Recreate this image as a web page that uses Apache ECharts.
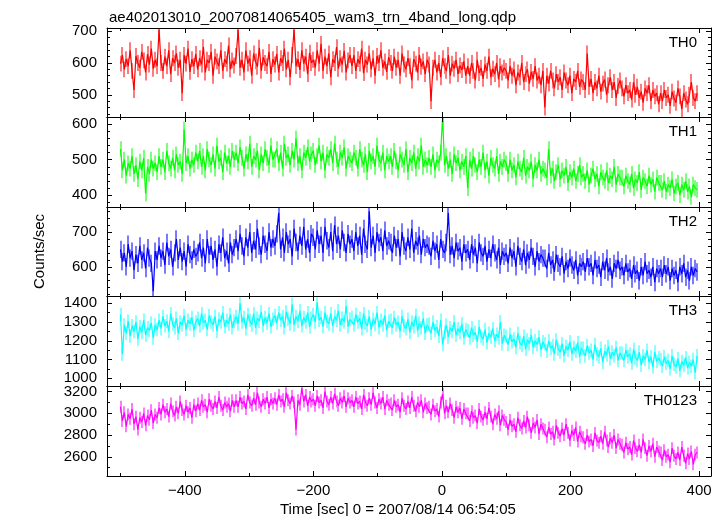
<!DOCTYPE html>
<html><head><meta charset="utf-8">
<script src="https://cdn.jsdelivr.net/npm/echarts@6/dist/echarts.min.js"></script>
<style>html,body{margin:0;padding:0;background:#fff}#c{width:724px;height:516px}</style>
</head><body><div id="c"></div>
<script>
// time bins (seconds from 2007/08/14 06:54:05), 3 s bins starting at -500
const tStart = -500, tStep = 3, nBins = 300;
const times = [];
for (let i = 0; i < nBins; i++) times.push(tStart + i * tStep);

const th0 = [
598,625,580,612,590,640,575,515,622,600,585,635,608,570,628,595,645,582,610,590,
705,600,575,620,590,640,565,615,600,630,585,610,505,625,598,645,572,612,590,628,
580,615,595,650,570,610,600,635,560,620,605,590,640,575,612,598,655,580,608,592,
622,705,585,610,570,640,598,615,560,630,605,588,648,575,618,600,590,635,565,612,
595,628,570,615,600,645,580,610,555,625,705,590,612,578,640,598,620,565,632,600,
610,585,640,598,660,575,620,590,630,555,612,600,650,582,615,595,638,570,608,625,
590,625,575,612,598,645,568,610,595,630,580,615,560,622,600,640,585,605,572,618,
600,575,620,585,610,560,630,595,580,615,590,545,612,598,570,625,588,605,565,610,
595,480,585,610,570,600,555,615,590,575,625,560,598,582,610,565,592,578,605,560,
590,560,600,575,545,610,568,585,550,595,575,620,555,582,565,600,548,590,570,585,
575,545,590,560,580,530,570,555,600,540,565,580,535,572,550,590,545,560,530,575,
460,560,535,575,545,520,565,540,555,515,570,545,530,560,505,550,540,575,525,548,
540,515,630,525,550,505,540,520,560,510,535,548,500,530,555,515,540,490,528,545,
520,495,530,505,515,485,540,500,525,490,510,475,520,505,530,480,515,495,505,470,
505,480,515,490,500,465,510,488,475,520,495,455,505,485,470,500,540,490,480,505];

const th1 = [
530,470,500,455,490,475,510,460,485,445,495,470,505,405,480,460,500,475,490,465,
510,480,500,465,525,490,475,505,470,515,485,495,460,585,490,510,475,500,485,520,
495,525,480,510,470,530,500,485,515,475,540,495,505,465,520,490,510,480,525,500,
520,490,535,505,475,515,495,545,480,510,500,525,470,515,490,530,505,485,540,500,
500,530,490,520,475,545,505,515,485,525,500,560,490,510,470,520,505,535,495,515,
525,485,510,540,495,520,470,515,505,530,490,545,500,480,520,505,535,475,510,500,
490,520,505,475,530,500,485,515,465,525,495,510,480,540,500,490,520,470,510,495,
510,480,525,495,470,515,500,485,530,465,505,490,520,475,510,495,540,480,500,485,
505,480,515,470,500,490,520,620,485,510,475,500,460,515,490,505,470,495,480,510,
420,500,475,510,485,465,500,480,520,470,495,455,505,485,475,510,460,495,480,500,
490,460,500,470,485,450,495,475,465,505,455,480,470,495,445,485,470,500,460,475,
470,450,530,455,475,440,465,485,445,470,455,480,435,465,450,475,440,460,485,450,
460,440,470,430,455,475,445,460,425,465,450,440,470,435,455,445,480,430,460,450,
450,425,455,440,430,460,420,445,435,465,415,450,440,425,455,430,445,410,450,435,
435,415,440,410,430,420,445,405,425,435,400,430,415,440,410,425,395,430,420,415];

const th2 = [
650,615,640,600,665,625,645,590,635,610,660,620,640,595,655,625,610,530,645,620,
660,625,645,605,670,630,650,600,640,680,620,655,615,645,600,665,635,620,650,630,
640,670,625,655,610,680,635,660,620,650,600,665,640,685,625,645,610,670,635,655,
680,645,695,660,630,685,655,700,640,675,650,710,660,635,690,665,645,700,655,680,
660,695,755,650,685,640,700,665,680,630,710,670,645,690,660,715,650,680,640,695,
685,650,705,665,690,640,715,675,655,700,645,720,665,690,650,705,670,640,695,665,
680,645,700,660,690,635,710,665,650,760,655,690,640,700,670,685,645,705,660,675,
670,640,690,655,680,630,700,660,645,685,650,710,640,675,660,690,635,680,655,665,
660,630,675,645,665,620,680,650,640,670,755,635,660,625,670,645,655,615,665,640,
650,620,665,635,655,610,670,640,630,660,615,650,625,665,640,620,655,605,645,630,
640,610,655,625,645,600,660,630,615,650,605,640,620,655,630,600,645,615,635,625,
625,595,640,605,620,585,635,610,600,630,580,615,595,625,605,590,620,575,610,600,
615,585,625,600,610,575,620,595,605,570,615,590,625,585,600,565,610,595,620,590,
600,575,610,585,595,565,605,580,590,560,600,575,615,580,590,570,600,555,595,580,
595,570,605,580,600,560,595,575,590,555,600,580,610,570,590,560,600,575,595,585];

const th3 = [
1340,1130,1285,1240,1305,1225,1280,1250,1300,1210,1275,1245,1310,1230,1270,1255,1295,1215,1285,1260,
1310,1265,1330,1280,1305,1250,1345,1290,1270,1320,1240,1300,1285,1335,1260,1310,1290,1325,1255,1300,
1320,1280,1345,1295,1310,1260,1335,1300,1285,1330,1250,1315,1300,1350,1275,1310,1290,1340,1270,1305,
1330,1290,1400,1300,1325,1265,1340,1310,1285,1345,1270,1320,1305,1355,1280,1325,1295,1345,1275,1315,
1335,1295,1350,1310,1330,1270,1355,1315,1290,1395,1285,1330,1305,1360,1280,1325,1300,1350,1275,1320,
1340,1300,1405,1310,1325,1275,1350,1305,1290,1345,1280,1330,1310,1360,1285,1320,1300,1385,1275,1315,
1325,1285,1340,1300,1320,1265,1345,1295,1280,1330,1260,1315,1290,1350,1270,1310,1285,1335,1255,1305,
1310,1270,1325,1285,1300,1250,1330,1280,1265,1315,1245,1300,1275,1335,1255,1295,1270,1320,1240,1285,
1290,1240,1300,1255,1275,1225,1310,1180,1245,1285,1220,1270,1250,1300,1230,1265,1245,1290,1215,1260,
1255,1215,1270,1230,1245,1195,1275,1225,1210,1260,1190,1240,1220,1265,1200,1235,1215,1300,1185,1230,
1225,1180,1235,1195,1210,1165,1240,1190,1175,1225,1155,1205,1185,1230,1165,1200,1180,1220,1150,1195,
1185,1145,1200,1160,1175,1130,1205,1155,1140,1185,1120,1170,1150,1195,1130,1165,1145,1190,1115,1160,
1160,1120,1175,1135,1150,1100,1180,1130,1115,1160,1085,1145,1125,1170,1105,1140,1120,1165,1095,1135,
1135,1095,1150,1115,1130,1080,1155,1110,1095,1140,1070,1120,1100,1150,1085,1115,1060,1140,1090,1110,
1100,1065,1115,1080,1095,1050,1120,1075,1060,1105,1040,1090,1070,1110,1055,1085,1065,1100,1030,1120];

const th0123 = [
3060,2930,3010,2880,2990,2950,3040,2900,2970,2850,2960,2920,3000,2890,2980,2940,3030,2910,2990,2960,
3050,2990,3080,3010,3040,2970,3090,3020,2980,3060,3000,3110,3030,2990,3070,3010,3050,2960,3080,3020,
3090,3030,3120,3060,3080,3010,3130,3070,3040,3110,3050,3150,3070,3030,3100,3060,3090,3020,3120,3060,
3120,3060,3150,3090,3110,3040,3170,3100,3070,3140,3080,3190,3100,3060,3130,3090,3150,3050,3130,3090,
3140,3080,3170,3110,3130,3060,3190,3120,3090,3160,3100,2850,3120,3080,3230,3110,3170,3070,3150,3110,
3130,3070,3160,3100,3120,3050,3200,3110,3080,3150,3090,3180,3110,3070,3140,3100,3160,3060,3140,3100,
3120,3060,3150,3090,3110,3040,3170,3100,3070,3140,3080,3190,3100,3050,3130,3090,3150,3040,3120,3080,
3090,3030,3120,3060,3080,3010,3140,3070,3040,3110,3050,3150,3070,3020,3100,3060,3120,3010,3090,3050,
3060,2990,3080,3020,3040,2970,3100,3180,3000,3070,3010,3090,3030,2960,3060,3010,3050,2950,3040,3000,
3000,2930,3020,2960,2980,2910,3040,2970,2940,3010,2950,3050,2970,2900,2990,2950,3020,2890,2980,2940,
2920,2850,2940,2880,2900,2830,2960,2890,2860,2930,2870,2970,2890,2820,2910,2870,2940,2810,2900,2860,
2850,2780,2870,2810,2830,2760,2890,2820,2790,2860,2800,2900,2820,2750,2840,2800,2870,2740,2830,2790,
2780,2720,2800,2740,2760,2700,2820,2750,2730,2790,2720,2830,2750,2690,2770,2730,2800,2680,2760,2720,
2710,2640,2730,2670,2690,2620,2750,2680,2650,2710,2640,2760,2680,2610,2700,2650,2720,2600,2690,2650,
2640,2570,2660,2600,2620,2550,2680,2610,2580,2640,2570,2690,2610,2540,2630,2580,2650,2530,2620,2640];

// typical 1-sigma error bar half-length per band (counts/sec)
const bandErr = [25, 22, 25, 36, 55];

const bandNames = ['TH0','TH1','TH2','TH3','TH0123'];
const bandColors = ['#ff0000','#00ff00','#0000ff','#00ffff','#ff00ff'];
const errColors = ['#ff7a7a','#7aff7a','#7a7aff','#8affff','#ff7aff'];
const bandData = [th0, th1, th2, th3, th0123];
const yMin = [430, 367, 516, 959, 2423];
const yMax = [710, 620, 772, 1439, 3252];
const yLabelStep = [100, 100, 100, 100, 200];
const ySplit = [3, 3, 3, 5, 4];
const yMinorSplit = [5, 5, 5, 2, 2];
const xMin = -521, xMax = 418.5;
const xLabelStep = 200;
const titleText = 'ae402013010_20070814065405_wam3_trn_4band_long.qdp';
const xName = 'Time [sec] 0 = 2007/08/14 06:54:05';
const yName = 'Counts/sec';

const FONT = 'Liberation Sans, Arial, Helvetica, sans-serif';
const gridTops = [28, 117, 207, 296, 386];
const gridH = [89, 90, 89, 90, 90];

const grids = [], xAxes = [], yAxes = [], series = [], titles = [];
titles.push({text: titleText, left: 104, top: 5, textStyle:{fontFamily:FONT, fontSize:15, fontWeight:'normal', color:'#000'}});
titles.push({text: xName, left: 275, top: 497, textStyle:{fontFamily:FONT, fontSize:15, fontWeight:'normal', color:'#000'}});
const lineSt = {show:true, onZero:false, lineStyle:{color:'#000', width:1}};
for (let i = 0; i < 5; i++) {
  grids.push({left:107, right:13, top:gridTops[i], height:gridH[i], containLabel:false});
  const xBase = {gridIndex:i, type:'value', min:xMin, max:xMax, splitNumber:5,
    axisLine:lineSt, splitLine:{show:false}, z:5,
    axisTick:{show:true, inside:true, length:5, lineStyle:{color:'#000'}},
    minorTick:{show:true, splitNumber:2, length:3, lineStyle:{color:'#000'}}};
  xAxes.push(Object.assign({}, xBase, {position:'bottom',
    axisLabel:{show:i===4, fontFamily:FONT, fontSize:15, color:'#000', margin:7,
      formatter:v => (v % xLabelStep === 0 ? String(v).replace('-', '\u2212') : '')}}));
  xAxes.push(Object.assign({}, xBase, {position:'top', axisLabel:{show:false}}));
  const yBase = {gridIndex:i, type:'value', min:yMin[i], max:yMax[i], splitNumber:ySplit[i],
    axisLine:lineSt, splitLine:{show:false}, z:5,
    axisTick:{show:true, inside:true, length:5, lineStyle:{color:'#000'}},
    minorTick:{show:true, splitNumber:yMinorSplit[i], length:3, lineStyle:{color:'#000'}}};
  const yl = Object.assign({}, yBase, {position:'left',
    axisLabel:{show:true, fontFamily:FONT, fontSize:15, color:'#000', margin:10,
      formatter:v => (v % yLabelStep[i] === 0 ? String(v) : '')}});
  if (i === 2) {
    yl.name = yName; yl.nameLocation = 'middle'; yl.nameGap = 60;
    yl.nameTextStyle = {fontFamily:FONT, fontSize:15, color:'#000'};
  }
  yAxes.push(yl);
  yAxes.push(Object.assign({}, yBase, {position:'right', axisLabel:{show:false}}));
  const pts = times.map((t, k) => [t, bandData[i][k]]);
  const err = bandErr[i], ec = errColors[i];
  series.push({type:'custom', xAxisIndex:2*i, yAxisIndex:2*i, z:1, animation:false, clip:true,
    data: pts,
    renderItem: (params, api) => {
      const t = api.value(0), v = api.value(1);
      const p1 = api.coord([t, v - err]), p2 = api.coord([t, v + err]);
      const x = Math.round(p1[0]);
      return {type:'line', shape:{x1:x, y1:p1[1], x2:x, y2:p2[1]},
        style:{stroke:ec, lineWidth:2}};
    }});
  series.push({type:'line', xAxisIndex:2*i, yAxisIndex:2*i, z:2, showSymbol:false, animation:false,
    lineStyle:{color:bandColors[i], width:1.2}, itemStyle:{color:bandColors[i]},
    data: pts});
  titles.push({text: bandNames[i], right: 22, top: gridTops[i] + 2,
    textStyle:{fontFamily:FONT, fontSize:15, fontWeight:'normal', color:'#000'}});
}

const chart = echarts.init(document.getElementById('c'), null, {renderer:'canvas'});
chart.setOption({animation:false, backgroundColor:'#fff', title:titles, grid:grids,
  xAxis:xAxes, yAxis:yAxes, series:series});
</script></body></html>
